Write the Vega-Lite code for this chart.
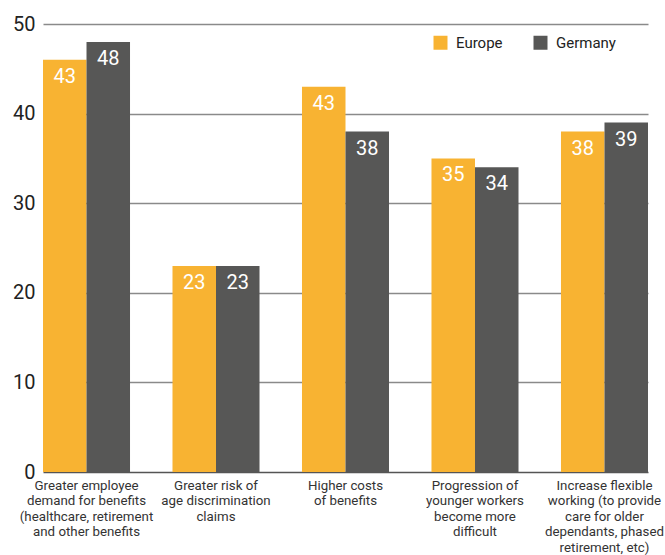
{
  "$schema": "https://vega.github.io/schema/vega-lite/v6.json",
  "autosize": "none",
  "width": 605,
  "height": 448,
  "padding": {"left": 43, "top": 24, "right": 17, "bottom": 83},
  "background": "white",
  "config": {
    "font": "Roboto",
    "view": {"stroke": null}
  },
  "data": {
    "values": [
      {"category": "Greater employee|demand for benefits|(healthcare, retirement|and other benefits", "series": "Europe", "value": 46, "label": "43"},
      {"category": "Greater employee|demand for benefits|(healthcare, retirement|and other benefits", "series": "Germany", "value": 48, "label": "48"},
      {"category": "Greater risk of|age discrimination|claims", "series": "Europe", "value": 23, "label": "23"},
      {"category": "Greater risk of|age discrimination|claims", "series": "Germany", "value": 23, "label": "23"},
      {"category": "Higher costs|of benefits", "series": "Europe", "value": 43, "label": "43"},
      {"category": "Higher costs|of benefits", "series": "Germany", "value": 38, "label": "38"},
      {"category": "Progression of|younger workers|become more|difficult", "series": "Europe", "value": 35, "label": "35"},
      {"category": "Progression of|younger workers|become more|difficult", "series": "Germany", "value": 34, "label": "34"},
      {"category": "Increase flexible|working (to provide|care for older|dependants, phased|retirement, etc)", "series": "Europe", "value": 38, "label": "38"},
      {"category": "Increase flexible|working (to provide|care for older|dependants, phased|retirement, etc)", "series": "Germany", "value": 39, "label": "39"}
    ]
  },
  "encoding": {
    "x": {
      "field": "category",
      "type": "nominal",
      "sort": null,
      "scale": {"paddingInner": 0.328, "paddingOuter": 0},
      "axis": {
        "title": null,
        "labelAngle": 0,
        "labelExpr": "split(datum.label, '|')",
        "labelFontSize": 13.3,
        "labelColor": "#333333",
        "labelLineHeight": 15.5,
        "labelBaseline": "top",
        "labelPadding": 6,
        "labelLimit": 0,
        "domain": false,
        "ticks": false
      }
    },
    "xOffset": {
      "field": "series",
      "type": "nominal",
      "sort": ["Europe", "Germany"],
      "scale": {"paddingInner": 0, "paddingOuter": 0}
    },
    "y": {
      "field": "value",
      "type": "quantitative",
      "scale": {"domain": [0, 50], "nice": false},
      "axis": {
        "title": null,
        "values": [0, 10, 20, 30, 40, 50],
        "labelFontSize": 20,
        "labelColor": "#222222",
        "labelPadding": 8,
        "domain": false,
        "ticks": false,
        "gridColor": {"condition": {"test": "datum.value === 0", "value": "#555555"}, "value": "#8a8a8a"},
        "gridWidth": 1.5
      }
    }
  },
  "layer": [
    {
      "mark": {"type": "bar"},
      "encoding": {
        "color": {
          "field": "series",
          "type": "nominal",
          "sort": ["Europe", "Germany"],
          "scale": {"domain": ["Europe", "Germany"], "range": ["#F8B332", "#575756"]},
          "legend": {
            "title": null,
            "orient": "none",
            "legendX": 390,
            "legendY": 11,
            "direction": "horizontal",
            "columns": 2,
            "symbolType": "square",
            "symbolSize": 196,
            "symbolStrokeWidth": 0,
            "labelFontSize": 15,
            "labelColor": "#222222",
            "labelOffset": 8,
            "columnPadding": 30,
            "padding": 0
          }
        }
      }
    },
    {
      "mark": {"type": "text", "color": "white", "fontSize": 20, "baseline": "top", "dy": 7},
      "encoding": {
        "text": {"field": "label", "type": "nominal"}
      }
    }
  ]
}
